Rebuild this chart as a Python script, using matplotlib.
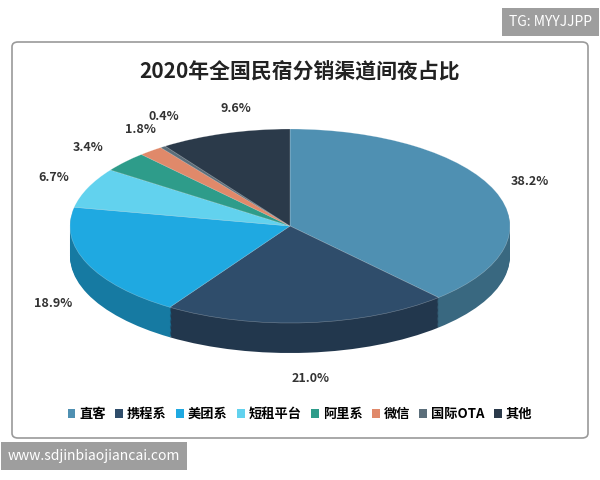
import matplotlib.pyplot as plt
import numpy as np
from matplotlib.patches import Patch, FancyBboxPatch
from matplotlib.colors import to_rgb

plt.rcParams['font.family'] = ['Noto Sans CJK SC', 'DejaVu Sans']

labels = ["直客", "携程系", "美团系", "短租平台", "阿里系", "微信", "国际OTA", "其他"]
values = [38.2, 21.0, 18.9, 6.7, 3.4, 1.8, 0.4, 9.6]
colors = ["#4f90b2", "#2f4d6b", "#1fa9e1", "#62d2ee", "#2e9c8a", "#e0896a", "#5b6e7a", "#2b3a4a"]

W, H = 600, 480
fig = plt.figure(figsize=(6, 4.8), dpi=100)

# frame
frame = FancyBboxPatch((12 / W, 42 / H), 576 / W, 396 / H, boxstyle="round,pad=0,rounding_size=0.01",
                       transform=fig.transFigure, fill=False, edgecolor="#9a9a9a", linewidth=1.2)
fig.patches.append(frame)

fig.text(0.5, 1 - 72 / H, "2020年全国民宿分销渠道间夜占比", ha="center", va="center",
         fontsize=15, fontweight="bold", color="#222222")

# pie axes: center at (290, 226) px, rx 220, ry 97
cx, cy, rx, ry = 290, 226, 220, 97
xl, yl_lo, yl_hi = 1.3, -1.7, 1.3
ax = fig.add_axes([(cx - rx * xl) / W, (H - cy - ry * (-yl_lo)) / H,
                   2 * rx * xl / W, ry * (yl_hi - yl_lo) / H])
depth = 30 / ry
dark = [tuple(np.array(to_rgb(c)) * 0.72) for c in colors]
for d in np.linspace(depth, 0.01, 25):
    ax.pie(values, colors=dark, startangle=90, counterclock=False, center=(0, -d),
           wedgeprops=dict(linewidth=0))
ax.pie(values, colors=colors, startangle=90, counterclock=False, center=(0, 0),
       wedgeprops=dict(linewidth=0.4, edgecolor=(1, 1, 1, 0.35)))
ax.set_aspect("auto")
ax.set_xlim(-xl, xl)
ax.set_ylim(yl_lo, yl_hi)
ax.axis("off")

# small slices get their labels spread out a bit
nudge = {4: (-0.04, -0.03), 5: (0.06, 0.02), 6: (0.1, 0.1), 7: (0.1, 0.0)}
start = 90.0
for i, v in enumerate(values):
    mid = np.deg2rad(start - v * 3.6 / 2)
    start -= v * 3.6
    r = 1.17
    x, y = r * np.cos(mid), r * np.sin(mid) * 1.08
    if y < 0:
        y -= depth
    dx, dy = nudge.get(i, (0, 0))
    ax.text(x + dx, y + dy, f"{v:.1f}%", ha="center", va="center", fontsize=9,
            fontweight="bold", color="#333333")

handles = [Patch(facecolor=c, edgecolor="none") for c in colors]
fig.legend(handles, labels, loc="center", bbox_to_anchor=(0.5, 1 - 414 / H), ncol=8, frameon=False,
           handlelength=0.6, handleheight=0.6, handletextpad=0.3, columnspacing=0.7,
           prop=dict(weight="bold", size=9.5))

fig.text(1 - 8 / W, 1 - 22 / H, "TG: MYYJJPP", ha="right", va="center", fontsize=10, color="white",
         bbox=dict(facecolor="#9e9e9e", edgecolor="none", pad=5))
fig.text(8 / W, 1 - 456 / H, "www.sdjinbiaojiancai.com", ha="left", va="center", fontsize=10, color="white",
         bbox=dict(facecolor="#9e9e9e", edgecolor="none", pad=5))

fig.savefig("out.png", dpi=100)
